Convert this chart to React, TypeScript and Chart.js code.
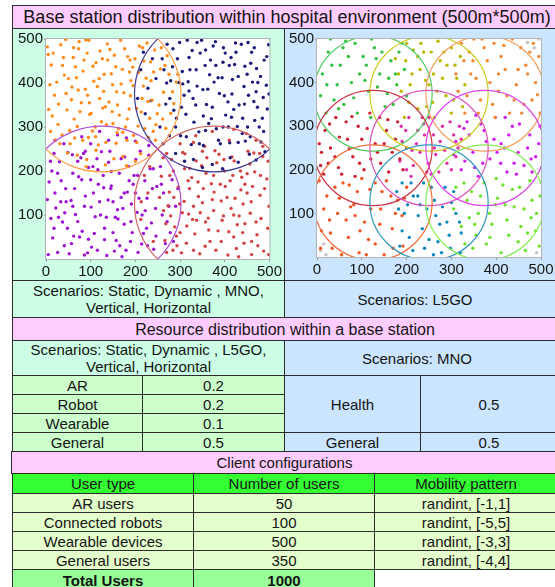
import React, { useEffect, useRef } from 'react';
import { Chart, registerables } from 'chart.js';
Chart.register(...registerables);

const FONT = '"Liberation Sans", Arial, Helvetica, sans-serif';

// ---------- axis ticks ----------
const xTickValues = [0, 100, 200, 300, 400, 500];
const yTickValues = [100, 200, 300, 400, 500];

// ---------- left panel: 4 base stations ----------
const leftStations = [[125, 375], [375, 375], [375, 125], [125, 125]];
const leftRadius = 177;
const leftStationColors = ['#ff9d45', '#3b3b8e', '#d46464', '#b24fd6'];
const leftPointColors = ['#ff8a1a', '#1c1c7a', '#d24444', '#9c14d2'];

const orangeUsers = [[12,441],[27,306],[19,372],[33,487],[41,418],[47,339],[54,262],[61,458],[58,391],[70,301],[74,494],[83,427],[79,355],[95,276],[92,468],[107,404],[101,331],[117,259],[112,446],[129,381],[124,312],[137,489],[146,421],[141,357],[159,287],[153,463],[168,398],[164,327],[181,270],[176,478],[194,436],[189,371],[206,302],[199,455],[218,393],[213,334],[229,276],[226,491],[241,425],[237,361],[9,396],[21,270],[44,499],[63,318],[66,437],[88,386],[104,291],[121,473],[133,346],[157,263],[171,431],[186,341],[209,484],[224,411],[246,305],[16,468],[57,362],[98,329],[149,396],[196,281],[36,282],[85,452],[130,420],[178,300],[234,448],[6,340],[120,365],[160,350],[245,270],[190,405],[256,432],[263,379],[271,462],[279,331],[291,402],[261,318],[286,353],[268,297],[275,420],[258,480],[48,241],[91,226],[133,214],[172,233],[212,239],[112,247],[152,228],[70,236],[200,222],[28,352],[50,410],[72,384],[110,300],[138,452],[183,460],[215,365],[232,320],[150,308],[96,497],
  [3,482],[14,325],[24,402],[31,262],[39,458],[45,376],[53,292],[62,480],[68,412],[76,335],[82,270],[89,498],[97,355],[105,438],[111,278],[119,410],[127,343],[134,265],[143,476],[148,335],[156,437],[162,296],[167,497],[174,378],[182,318],[188,452],[195,394],[203,265],[207,424],[216,480],[221,296],[228,358],[235,405],[243,475],[249,330],[10,290],[37,440],[64,275],[93,372],[126,455],[158,380],[187,425],[219,450],[240,290],[5,465],[73,478],[115,392],[172,288],[203,342],[135,305],[283,380],[295,420],[266,440],[253,350],[90,210],[180,212]];
const blueUsers = [[262,262],[271,488],[279,405],[286,338],[294,455],[301,280],[309,372],[316,497],[322,430],[331,311],[338,393],[345,468],[352,258],[359,351],[366,419],[374,484],[381,296],[388,376],[396,447],[402,327],[411,264],[417,408],[424,491],[432,350],[439,285],[445,438],[453,372],[460,470],[467,315],[474,401],[481,266],[488,452],[495,341],[268,352],[283,437],[297,401],[313,329],[327,474],[342,289],[356,440],[370,319],[385,412],[399,371],[414,458],[428,301],[443,392],[457,278],[471,433],[486,367],[498,487],[305,426],[335,350],[362,386],[390,262],[420,340],[450,420],[477,300],[290,300],[348,497],[410,440],[440,320],[470,380],[380,440],[325,260],[212,430],[228,388],[238,455],[222,330],[246,410],[205,365],[290,240],[330,226],[372,215],[412,230],[455,238],[490,244],[350,208],[430,220],[318,403],[352,325],[396,300],[425,470],[462,402],[493,395],[276,280],[368,452],[407,357],[446,268],
  [255,300],[264,430],[277,365],[284,478],[292,320],[299,492],[306,398],[314,278],[320,458],[329,365],[336,430],[343,262],[351,385],[357,475],[364,308],[372,345],[379,494],[386,270],[394,412],[401,468],[408,300],[416,375],[422,442],[430,265],[437,488],[444,352],[451,300],[458,445],[466,480],[473,345],[480,415],[487,290],[494,460],[499,375],[270,400],[303,345],[338,492],[376,402],[415,322],[452,492],[484,320],[397,480],[357,292],[320,382],[430,415],[465,358],[260,455],[218,470],[235,360],[310,222],[395,205],[470,225]];
const redUsers = [[258,188],[266,42],[273,121],[281,226],[288,73],[296,164],[303,14],[311,239],[319,102],[326,185],[333,57],[341,142],[348,212],[356,29],[363,93],[370,171],[378,246],[385,64],[392,132],[399,200],[407,9],[414,115],[421,223],[428,78],[436,157],[443,36],[450,194],[457,104],[465,241],[472,55],[479,145],[487,18],[494,182],[263,110],[277,190],[293,30],[309,131],[322,206],[337,88],[352,160],[367,40],[382,219],[397,98],[412,178],[426,24],[441,125],[456,216],[470,84],[485,233],[499,120],[300,60],[330,120],[360,230],[390,170],[420,50],[450,150],[480,190],[270,240],[340,175],[405,140],[460,10],[375,110],[435,200],[315,75],[300,262],[335,280],[372,290],[410,270],[448,285],[485,256],[355,256],[212,90],[228,150],[240,40],[220,190],[286,140],[345,105],[392,40],[418,190],[462,165],[496,70],[310,205],[376,152],[432,98],[268,80],
  [254,140],[262,230],[270,15],[279,98],[285,200],[292,52],[299,125],[306,242],[314,36],[321,160],[328,90],[336,223],[344,12],[350,128],[358,195],[364,66],[372,135],[380,20],[387,238],[394,88],[401,165],[409,62],[416,232],[423,138],[431,5],[438,186],[445,80],[452,245],[459,130],[467,198],[474,30],[481,92],[489,160],[497,222],[284,20],[318,178],[357,84],[398,226],[440,60],[478,240],[330,20],[375,190],[420,100],[460,40],[498,10],[350,245],[305,105],[445,170],[276,152],[213,130],[232,210],[330,265],[420,295],[470,270]];
const purpleUsers = [[7,175],[15,48],[22,116],[30,221],[37,84],[44,160],[52,12],[59,237],[66,101],[73,187],[81,63],[88,143],[95,208],[102,27],[110,96],[117,170],[124,244],[131,70],[139,134],[146,199],[153,18],[160,112],[168,228],[175,79],[182,152],[189,40],[197,190],[204,106],[211,245],[218,58],[226,138],[233,205],[241,22],[248,165],[11,92],[26,195],[41,30],[56,133],[71,222],[86,9],[101,118],[116,203],[131,44],[146,166],[161,91],[176,232],[191,125],[206,15],[221,178],[236,82],[20,150],[48,70],[80,180],[120,130],[150,60],[185,210],[215,100],[5,10],[60,120],[95,45],[140,220],[170,5],[200,150],[245,115],[256,210],[263,150],[271,85],[282,180],[290,120],[267,35],[278,60],[295,160],[260,100],[40,262],[80,278],[120,290],[160,282],[200,268],[140,270],[230,258],[33,130],[62,52],[106,150],[128,190],[168,140],[190,85],[227,30],[84,240],[18,240],[155,95],
  [3,135],[10,222],[18,70],[26,15],[34,178],[42,105],[49,242],[57,35],[64,160],[71,85],[78,230],[86,120],[93,14],[100,180],[108,58],[114,228],[122,100],[129,162],[136,8],[143,245],[150,130],[157,42],[164,195],[172,115],[179,20],[186,178],[193,60],[201,226],[208,138],[214,34],[222,110],[230,236],[238,160],[246,52],[13,200],[45,130],[75,50],[105,210],[135,95],[165,30],[195,170],[225,70],[28,95],[88,245],[145,160],[205,190],[60,195],[175,150],[240,205],[115,20],[258,170],[275,120],[285,40],[100,262],[180,275],[20,270]];

// ---------- right panel: 9 base stations (L5GO) ----------
const rightStations = [[125,375],[250,375],[375,375],[125,250],[250,250],[375,250],[125,125],[250,125],[375,125]];
const rightRadius = 132;
const rightStationColors = ['#55cc66','#cccc22','#f0a060','#cc3848','#dd55bb','#dd44ee','#f07040','#3399bb','#88ee55'];
const rightPointColors = ['#33c040','#b8b800','#ee8833','#cc2233','#dd33aa','#cc22ee','#ee5522','#1188bb','#70e030'];

const greenUsers = [[12,420],[25,470],[38,360],[52,440],[64,495],[77,400],[90,330],[103,460],[115,380],[128,480],[140,420],[152,345],[165,450],[178,395],[190,490],[20,330],[45,395],[70,460],[95,420],[120,320],[145,470],[170,350],[195,430],[30,500],[60,350],[110,440],[160,410],[200,370],[85,490],[135,390],[8,370],[33,440],[58,480],[82,365],[107,405],[132,455],[157,375],[183,470],[22,395],[48,340],[122,500],[175,420]];
const yellowUsers = [[175,455],[188,380],[200,490],[212,420],[225,340],[238,470],[250,395],[262,320],[275,450],[288,370],[300,480],[312,410],[325,345],[205,355],[230,430],[255,470],[280,410],[305,360],[320,460],[195,320],[245,345],[270,495],[215,475],[290,440],[260,420],[182,420],[208,395],[232,490],[258,355],[283,470],[308,440],[330,395],[242,405],[268,380],[198,450],[300,330],[225,460]];
const orangeTRUsers = [[310,420],[322,490],[335,370],[348,450],[360,330],[373,480],[386,400],[398,320],[411,460],[424,370],[436,500],[449,430],[462,350],[475,470],[488,400],[498,330],[330,330],[355,410],[380,450],[405,380],[430,330],[455,480],[480,360],[340,470],[395,490],[445,395],[470,420],[365,360],[420,430],[495,460],[350,500],[315,380],[343,420],[368,500],[392,350],[417,485],[440,360],[466,440],[492,372],[328,450],[405,420],[457,330],[483,490]];
const crimsonUsers = [[8,210],[18,290],[30,250],[42,320],[55,190],[68,270],[80,230],[92,300],[105,200],[118,330],[130,260],[142,215],[155,290],[168,240],[180,310],[192,200],[15,190],[40,230],[65,310],[100,270],[140,320],[175,270],[5,260],[85,185],[120,225],[160,195],[200,250],[50,275],[10,240],[28,305],[48,205],[72,248],[95,215],[112,295],[135,240],[158,315],[185,225],[25,215],[78,322],[150,260]];
const pinkUsers = [[185,220],[198,290],[210,185],[222,260],[235,320],[248,215],[260,280],[272,195],[285,245],[297,310],[310,230],[322,270],[205,320],[230,240],[255,190],[280,300],[300,200],[318,300],[190,265],[240,280],[265,235],[215,210],[188,300],[212,245],[238,305],[262,250],[290,215],[315,250],[200,200],[250,320],[275,265],[225,290],[305,280],[245,195]];
const magentaUsers = [[310,265],[322,200],[335,310],[348,240],[360,185],[373,290],[386,225],[398,320],[411,260],[424,195],[436,300],[449,240],[462,210],[475,280],[488,230],[498,300],[340,280],[370,215],[395,270],[420,320],[445,190],[470,250],[330,220],[480,195],[410,215],[355,325],[305,235],[328,295],[352,205],[378,265],[402,240],[428,280],[452,305],[478,225],[495,260],[365,305],[440,215],[418,250]];
const redOrangeUsers = [[10,60],[22,140],[34,20],[46,100],[58,170],[70,45],[82,120],[94,10],[106,80],[118,155],[130,30],[142,110],[155,175],[168,65],[180,130],[192,25],[15,110],[40,160],[65,85],[90,150],[115,40],[140,75],[165,140],[190,95],[5,175],[55,5],[100,180],[150,5],[200,160],[75,115],[8,20],[28,85],[50,135],[72,165],[96,60],[120,110],[145,150],[170,20],[195,135],[30,55],[85,95],[130,170],[175,100],[110,5]];
const tealUsers = [[178,150],[190,60],[202,120],[214,15],[226,95],[238,170],[250,40],[262,130],[274,75],[286,160],[298,20],[310,100],[322,55],[185,25],[210,170],[235,65],[260,5],[280,115],[305,150],[320,10],[195,100],[245,110],[270,35],[225,140],[290,80],[182,110],[206,45],[230,120],[255,160],[278,10],[300,125],[318,80],[215,140],[240,20],[265,95],[295,50],[190,170]];
const limeUsers = [[310,160],[322,70],[335,130],[348,20],[360,100],[373,170],[386,45],[398,120],[411,10],[424,85],[436,155],[449,35],[462,110],[475,175],[488,60],[498,140],[340,90],[365,140],[390,75],[415,165],[440,115],[465,15],[490,100],[330,30],[400,180],[455,70],[480,130],[355,50],[305,110],[328,170],[352,75],[378,30],[403,135],[428,50],[452,160],[478,90],[496,25],[345,150],[420,120],[470,55],[385,100]];
const unassignedUsers = [[470,492],[485,480],[495,500],[8,15],[15,30],[490,10],[20,5]];

// ---------- table texts ----------
const resourceTypes = ['AR', 'Robot', 'Wearable', 'General'];
const resourceShares = ['0.2', '0.2', '0.1', '0.5'];
const mnoTypes = ['Health', 'General'];
const mnoShares = ['0.5', '0.5'];
const userTypes = ['AR users', 'Connected robots', 'Wearable devices', 'General users'];
const userCounts = ['50', '100', '500', '350'];
const mobilityPatterns = ['randint, [-1,1]', 'randint, [-5,5]', 'randint, [-3,3]', 'randint, [-4,4]'];
const totalUsers = '1000';

const toPts = (a: number[][]) => a.map(([x, y]) => ({ x, y }));

type ScatterProps = {
  groups: number[][][];
  colors: string[];
  stations: number[][];
  radius: number;
  stationColors: string[];
  extra?: number[][];
  yWidth: number;
  xHeight: number;
  padTop: number;
  padRight: number;
  w: number;
  h: number;
};

function Scatter(p: ScatterProps) {
  const ref = useRef<HTMLCanvasElement>(null);
  useEffect(() => {
    const datasets: any[] = p.groups.map((g, i) => ({
      data: toPts(g),
      backgroundColor: p.colors[i],
      borderWidth: 0,
      pointRadius: 1.7,
    }));
    if (p.extra) {
      datasets.push({ data: toPts(p.extra), backgroundColor: '#c4c4c4', borderWidth: 0, pointRadius: 1.7 });
    }
    const areaPlugin = {
      id: 'area',
      beforeDatasetsDraw(chart: any) {
        const { ctx, chartArea: a } = chart;
        ctx.save();
        ctx.fillStyle = '#ffffff';
        ctx.fillRect(a.left, a.top, a.right - a.left, a.bottom - a.top);
        ctx.strokeStyle = '#b4b4b4';
        ctx.lineWidth = 1;
        ctx.strokeRect(a.left - 0.5, a.top - 0.5, a.right - a.left + 1, a.bottom - a.top + 1);
        ctx.restore();
      },
      afterDatasetsDraw(chart: any) {
        const { ctx, chartArea: a, scales } = chart;
        const xs = scales.x, ys = scales.y;
        ctx.save();
        ctx.beginPath();
        ctx.rect(a.left, a.top, a.right - a.left, a.bottom - a.top);
        ctx.clip();
        p.stations.forEach((s, i) => {
          const cx = xs.getPixelForValue(s[0]);
          const cy = ys.getPixelForValue(s[1]);
          const rx = Math.abs(xs.getPixelForValue(s[0] + p.radius) - cx);
          const ry = Math.abs(ys.getPixelForValue(s[1] + p.radius) - cy);
          ctx.beginPath();
          ctx.ellipse(cx, cy, rx, ry, 0, 0, Math.PI * 2);
          ctx.strokeStyle = p.stationColors[i];
          ctx.lineWidth = 1.2;
          ctx.stroke();
        });
        ctx.restore();
      },
    };
    const tickFont = { size: 15, family: FONT };
    const chart = new Chart(ref.current as HTMLCanvasElement, {
      type: 'scatter',
      data: { datasets },
      plugins: [areaPlugin],
      options: {
        animation: false,
        responsive: false,
        maintainAspectRatio: false,
        events: [],
        layout: { padding: { top: p.padTop, right: p.padRight, left: 0, bottom: 0 } },
        plugins: { legend: { display: false }, tooltip: { enabled: false } },
        scales: {
          x: {
            type: 'linear', min: 0, max: 500,
            afterBuildTicks: (s: any) => { s.ticks = xTickValues.map((v) => ({ value: v })); },
            afterFit: (s: any) => { s.height = p.xHeight; },
            ticks: { font: tickFont, color: '#151515', padding: 1, maxRotation: 0, autoSkip: false },
            grid: { drawOnChartArea: false, tickLength: 3, color: '#9a9a9a' },
            border: { display: false },
          },
          y: {
            type: 'linear', min: 0, max: 500,
            afterBuildTicks: (s: any) => { s.ticks = yTickValues.map((v) => ({ value: v })); },
            afterFit: (s: any) => { s.width = p.yWidth; },
            ticks: { font: tickFont, color: '#151515', padding: 1, autoSkip: false },
            grid: { drawOnChartArea: false, tickLength: 2, color: '#9a9a9a' },
            border: { display: false },
          },
        },
      } as any,
    });
    return () => chart.destroy();
  }, []);
  return <canvas ref={ref} width={p.w} height={p.h} style={{ display: 'block', width: p.w, height: p.h }} />;
}

const PINK = '#ffccff';
const MINT = '#ccffe6';
const LGREEN = '#ccffcc';
const BLUE = '#cce5ff';
const HGREEN = '#33ff33';
const ROW = '#e5ffcc';
const TOTAL = '#99ff99';

function Cell(props: { x1: number; y1: number; x2: number; y2: number; bg: string; fs?: number; bold?: boolean; children?: any; lh?: number; dx?: number }) {
  const { x1, y1, x2, y2, bg, fs = 15, bold, children, lh = 17, dx = 0 } = props;
  return (
    <div
      style={{
        position: 'absolute', left: x1, top: y1, width: x2 - x1 + 1, height: y2 - y1 + 1,
        boxSizing: 'border-box', border: '1px solid #2c2c2c', background: bg,
        display: 'flex', alignItems: 'center', justifyContent: 'center', textAlign: 'center',
        fontSize: fs, lineHeight: lh + 'px', fontWeight: bold ? 'bold' : 'normal', color: '#141414',
        fontFamily: FONT, whiteSpace: 'nowrap',
      }}
    >
      <div style={{ position: 'relative', left: dx }}>{children}</div>
    </div>
  );
}

export default function App() {
  const resRows = [375, 394, 413, 432, 451];
  const cliRows = [493, 512, 531, 550, 569];
  return (
    <div style={{ position: 'absolute', left: 0, top: 0, width: 555, height: 587, overflow: 'hidden', background: '#fff', fontFamily: FONT }}>
      <Cell x1={12} y1={5} x2={557} y2={28} bg={PINK} fs={18} dx={2}>Base station distribution within hospital environment (500m*500m)</Cell>
      <Cell x1={12} y1={28} x2={284} y2={280} bg={MINT} />
      <Cell x1={284} y1={28} x2={557} y2={280} bg={BLUE} />
      <div style={{ position: 'absolute', left: 13, top: 29 }}>
        <Scatter
          groups={[orangeUsers, blueUsers, redUsers, purpleUsers]}
          colors={leftPointColors}
          stations={leftStations}
          radius={leftRadius}
          stationColors={leftStationColors}
          yWidth={33} xHeight={20} padTop={5} padRight={12} w={270} h={250}
        />
      </div>
      <div style={{ position: 'absolute', left: 285, top: 29 }}>
        <Scatter
          groups={[greenUsers, yellowUsers, orangeTRUsers, crimsonUsers, pinkUsers, magentaUsers, redOrangeUsers, tealUsers, limeUsers]}
          colors={rightPointColors}
          stations={rightStations}
          radius={rightRadius}
          stationColors={rightStationColors}
          extra={unassignedUsers}
          yWidth={32} xHeight={22} padTop={4} padRight={14} w={270} h={250}
        />
      </div>

      <Cell x1={12} y1={280} x2={284} y2={317} bg={MINT}>
        <div>Scenarios: Static, Dynamic , MNO,<br />Vertical, Horizontal</div>
      </Cell>
      <Cell x1={284} y1={280} x2={557} y2={317} bg={BLUE} dx={-6}>Scenarios: L5GO</Cell>
      <Cell x1={12} y1={317} x2={557} y2={340} bg={PINK} fs={16}>Resource distribution within a base station</Cell>
      <Cell x1={12} y1={340} x2={284} y2={375} bg={MINT}>
        <div>Scenarios: Static, Dynamic , L5GO,<br />Vertical, Horizontal</div>
      </Cell>
      <Cell x1={284} y1={340} x2={557} y2={375} bg={BLUE} dx={-4}>Scenarios: MNO</Cell>
      {resourceTypes.map((t, i) => (
        <React.Fragment key={t}>
          <Cell x1={12} y1={resRows[i]} x2={142} y2={resRows[i + 1]} bg={LGREEN}>{t}</Cell>
          <Cell x1={142} y1={resRows[i]} x2={284} y2={resRows[i + 1]} bg={LGREEN}>{resourceShares[i]}</Cell>
        </React.Fragment>
      ))}
      <Cell x1={284} y1={375} x2={420} y2={432} bg={BLUE}>{mnoTypes[0]}</Cell>
      <Cell x1={420} y1={375} x2={557} y2={432} bg={BLUE}>{mnoShares[0]}</Cell>
      <Cell x1={284} y1={432} x2={420} y2={451} bg={BLUE}>{mnoTypes[1]}</Cell>
      <Cell x1={420} y1={432} x2={557} y2={451} bg={BLUE}>{mnoShares[1]}</Cell>

      <Cell x1={11} y1={451} x2={557} y2={473} bg={PINK}>Client configurations</Cell>
      <Cell x1={12} y1={473} x2={193} y2={493} bg={HGREEN}>User type</Cell>
      <Cell x1={193} y1={473} x2={374} y2={493} bg={HGREEN}>Number of users</Cell>
      <Cell x1={374} y1={473} x2={557} y2={493} bg={HGREEN}>Mobility pattern</Cell>
      {userTypes.map((t, i) => (
        <React.Fragment key={t}>
          <Cell x1={12} y1={cliRows[i]} x2={193} y2={cliRows[i + 1]} bg={ROW}>{t}</Cell>
          <Cell x1={193} y1={cliRows[i]} x2={374} y2={cliRows[i + 1]} bg={ROW}>{userCounts[i]}</Cell>
          <Cell x1={374} y1={cliRows[i]} x2={557} y2={cliRows[i + 1]} bg={ROW}>{mobilityPatterns[i]}</Cell>
        </React.Fragment>
      ))}
      <Cell x1={12} y1={569} x2={193} y2={590} bg={TOTAL} bold>Total Users</Cell>
      <Cell x1={193} y1={569} x2={374} y2={590} bg={TOTAL} bold>{totalUsers}</Cell>
    </div>
  );
}
